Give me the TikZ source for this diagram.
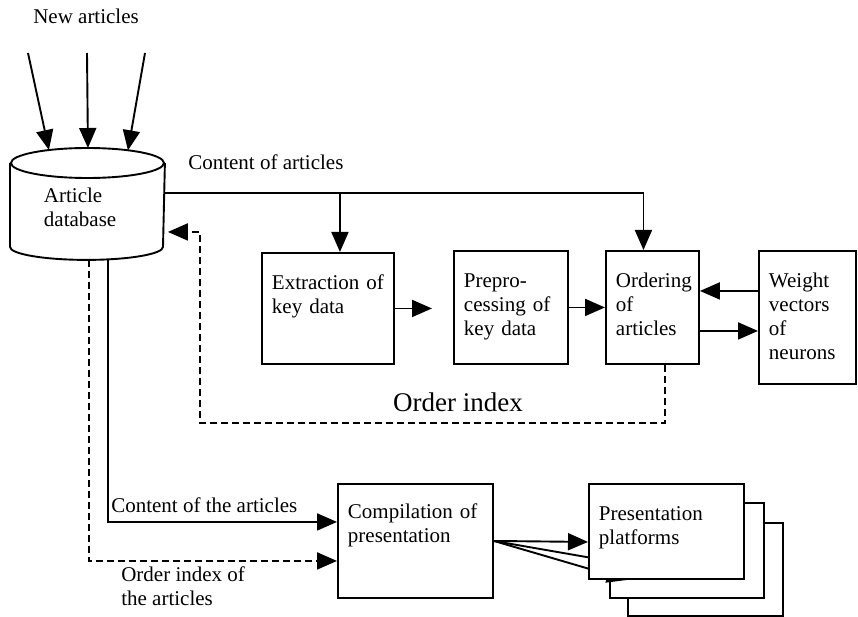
\documentclass[tikz,border=0pt]{standalone}
\usepackage{fontspec}
\setmainfont{Liberation Serif}
\usetikzlibrary{arrows.meta}
\tikzset{x=1pt, y=-1pt,
  every node/.style={font=\fontsize{21}{24}\selectfont},
  box/.style={draw, anchor=north west, align=left, inner xsep=10pt, inner ysep=0pt, text height=37pt},
  arr/.style={-{Triangle[length=20pt,width=17pt]}},
  darr/.style={arr, dash pattern=on 7pt off 4pt}}

\begin{document}
\begin{tikzpicture}[line width=1.9pt]
\useasboundingbox (0,0) rectangle (858,617);

           % database
           \node (db) [anchor=north west, align=left, text width=87pt, minimum width=153pt, inner sep=0pt, text height=39pt, text depth=43pt] at (10,163) {Article\\database};
           \draw (db.north west) -- (db.south west) arc[start angle=180, end angle=0, x radius=76.5, y radius=13] -- (db.north east);
           \draw (db.north) ellipse [x radius=76.5, y radius=15];

           \node (new) [anchor=base west] at (29,24) {New articles};
           \coordinate (n1) at (28,53);
           \coordinate (n2) at (87,53);
           \coordinate (n3) at (145,53);

           % boxes
           \node (extract) [box, text width=112pt, text depth=74pt] at (261,252) {Extraction of\\key data};
           \node (prep) [box, text width=94pt, text depth=76pt] at (453,250) {Prepro-\\cessing of\\key data};
           \node (ord) [box, text width=73pt, text depth=76pt] at (605,250) {Ordering\\of\\articles};
           \node (weight) [box, text width=77pt, text depth=96pt] at (758,250) {Weight\\vectors\\of\\neurons};
           \node (comp) [box, text width=135pt, text height=35pt, text depth=79pt] at (337,483) {Compilation of\\presentation};
           \node (plat3) [box, fill=white, text width=135pt, text depth=56pt] at (627,522) {};
           \node (plat2) [box, fill=white, text width=134pt, text depth=58pt] at (609,502) {};

           % labels
           \node (coa) [anchor=base west] at (184,170) {Content of articles};
           \node (oi) [anchor=base, font=\fontsize{27}{30}\selectfont] at (458,411) {Order index};
           \node (cta) [anchor=base west] at (107,512) {Content of the articles};
           \node (oia) [anchor=base west, align=left] at (117,605) {Order index of\\the articles};

           \draw[arr] (n1) -- ([xshift=-38.5pt,yshift=13pt]db.north);
           \draw[arr] (n2) -- ([xshift=0.5pt,yshift=15pt]db.north);
           \draw[arr] (n3) -- ([xshift=40.5pt,yshift=12.7pt]db.north);

           \coordinate (top) at ([yshift=12pt]db.east);
           \draw[arr] (top) -| ([xshift=-9pt]ord.north);
           \draw[arr] ([xshift=12pt]extract.north |- top) -- ([xshift=12pt]extract.north);

           \draw[arr] (extract.east) -- ([xshift=-21pt]extract.east -| prep.west);
           \draw[arr] (prep.east) -- (prep.east -| ord.west);
           \draw[arr] ([yshift=26.5pt]weight.west) -- ([yshift=26.5pt]weight.west -| ord.east);
           \draw[arr] ([yshift=-23.5pt]ord.east) -- ([yshift=-23.5pt]ord.east -| weight.west);

           \coordinate (fb) at (200,423);
           \draw[darr, shorten >=3pt] ([xshift=12.5pt]ord.south) |- (fb) |- ([yshift=-27pt]db.east);

           \draw[arr] ([xshift=20.5pt,yshift=-12.5pt]db.south) |- ([yshift=19pt]comp.west);
           \draw[darr] ([xshift=1.5pt,yshift=-13pt]db.south) |- ([yshift=-20pt]comp.west);

           \draw[arr] (comp.east) -- ([yshift=-10.5pt]plat3.west);
           \draw[arr] (comp.east) -- ([yshift=-10.5pt]plat2.west);
           \node (plat1) [box, fill=white, text width=135pt, text depth=58pt] at (588,483) {Presentation\\platforms};
           \draw[arr] (comp.east) -- ([yshift=-10.5pt]plat1.west);

         \end{tikzpicture}
\end{document}
